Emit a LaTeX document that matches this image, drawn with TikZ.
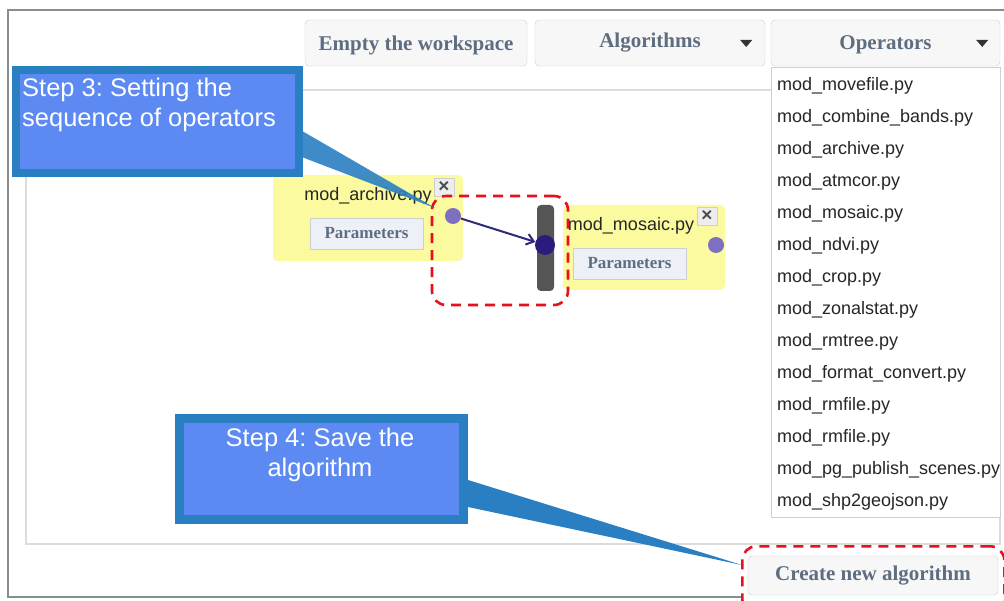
\documentclass[tikz,border=0pt]{standalone}
\usepackage{fontspec}
\setmainfont{Liberation Sans}
\newfontfamily\btnfont{Liberation Serif}
\usetikzlibrary{arrows.meta,positioning,calc}
\frenchspacing
\definecolor{frameg}{HTML}{8C8C8C}
\definecolor{panelg}{HTML}{DCDCDC}
\definecolor{btnfill}{HTML}{F7F7F7}
\definecolor{btnline}{HTML}{CFCFCF}
\definecolor{btntext}{HTML}{5E6E80}
\definecolor{opyellow}{HTML}{FBFA9E}
\definecolor{parfill}{HTML}{EEF0F8}
\definecolor{portc}{HTML}{7F6FC0}
\definecolor{inport}{HTML}{2B1B7D}
\definecolor{barg}{HTML}{555555}
\definecolor{linkc}{HTML}{2E2A7A}
\definecolor{markred}{HTML}{E8101C}
\definecolor{calldark}{HTML}{2A7FC2}
\definecolor{calllight}{HTML}{5C8AF2}

\begin{document}
\begin{tikzpicture}[x=1pt,y=-1pt,
        btn/.style={draw=btnline,fill=btnfill,rounded corners=4pt,text=btntext,
          font=\btnfont\fontsize{21}{24}\selectfont\bfseries},
        item/.style={text width=220pt,inner sep=0pt,outer sep=0pt,minimum height=32pt,align=left,
          font=\fontsize{18}{20}\selectfont,text=black!85},
        op/.style={fill=opyellow,rounded corners=5pt},
        optitle/.style={font=\fontsize{18}{20}\selectfont,text=black!85,inner sep=0pt},
        parbtn/.style={draw=btnline,fill=parfill,minimum width=113pt,minimum height=31pt,
          text=btntext,font=\btnfont\fontsize{17}{20}\selectfont\bfseries},
        closebox/.style={draw=btnline,fill=black!7,minimum width=20pt,minimum height=18pt,
          inner sep=0pt,font=\fontsize{19}{20}\selectfont\bfseries,text=black!70},
        port/.style={circle,fill=portc,minimum size=16pt,inner sep=0pt},
        redmark/.style={draw=markred,dash pattern=on 10pt off 7pt,line width=2.6pt,rounded corners=14pt},
        callout/.style={draw=calldark,fill=calllight,line width=8pt},
        calltext/.style={text=white,inner sep=0pt,font=\fontsize{25.5}{30}\selectfont},
        wedge/.style={fill=calldark},
        link/.style={-{Straight Barb[length=7pt,width=11pt]},line width=2pt,linkc}]
        \useasboundingbox[fill=white] (0,0) rectangle (1004,601);
        % page frame and workspace
        \draw[frameg,line width=1.5pt] (1004,10) -- (8,10) -- (8,597) -- (741,597);
        \draw[panelg,line width=1.2pt] (26,90) rectangle (1000,544);
        % toolbar
        \node[btn,minimum width=222,minimum height=46,text depth=0pt] (empty) at (416,43) {Empty the workspace};
        \node[btn,minimum width=230,minimum height=46] (algo) at (650,43) {Algorithms};
        \node[btn,minimum width=229,minimum height=46,text depth=0pt] (ops) at (885.5,43) {Operators};
        \fill[black!80] ($(algo.east)+(-25,-3)$) -- ++(12,0) -- ++(-6,7) -- cycle;
        \fill[black!80] ($(ops.east)+(-24,-3)$) -- ++(12,0) -- ++(-6,7) -- cycle;
        % operator list
        \node[draw=btnline,fill=white,minimum width=229,minimum height=450,anchor=north west] (oplist) at (771,67) {};
        \node[item,anchor=west] (i1) at (777,86) {mod\_movefile.py};
        \node[item,below=0pt of i1] (i2) {mod\_combine\_bands.py};
        \node[item,below=0pt of i2] (i3) {mod\_archive.py};
        \node[item,below=0pt of i3] (i4) {mod\_atmcor.py};
        \node[item,below=0pt of i4] (i5) {mod\_mosaic.py};
        \node[item,below=0pt of i5] (i6) {mod\_ndvi.py};
        \node[item,below=0pt of i6] (i7) {mod\_crop.py};
        \node[item,below=0pt of i7] (i8) {mod\_zonalstat.py};
        \node[item,below=0pt of i8] (i9) {mod\_rmtree.py};
        \node[item,below=0pt of i9] (i10) {mod\_format\_convert.py};
        \node[item,below=0pt of i10] (i11) {mod\_rmfile.py};
        \node[item,below=0pt of i11] (i12) {mod\_rmfile.py};
        \node[item,below=0pt of i12] (i13) {mod\_pg\_publish\_scenes.py};
        \node[item,below=0pt of i13] (i14) {mod\_shp2geojson.py};
        % operator boxes
        \node[op,minimum width=190,minimum height=86] (archive) at (368,218) {};
        \node[optitle] (archivet) at (368,196) {mod\_archive.py};
        \node[parbtn] (archivep) at (366.5,233.5) {Parameters};
        \node[closebox] (archivex) at (444,187) {×};
        \node[port] (archiveo) at (453,216) {};
        \node[op,minimum width=162,minimum height=85] (mosaic) at (644,247.5) {};
        \node[optitle] (mosaict) at (631,226) {mod\_mosaic.py};
        \node[parbtn] (mosaicp) at (629.5,263.5) {Parameters};
        \node[closebox] (mosaicx) at (707,216) {×};
        \node[port] (mosaico) at (716,245) {};
        \node[fill=barg,rounded corners=4pt,minimum width=17,minimum height=86] (bar) at (545.5,248) {};
        \node[circle,fill=inport,minimum size=20pt,inner sep=0pt] (mosaici) at (545,245) {};
        \draw[link] (archiveo) -- (mosaici);
        % highlights
        \node[redmark,minimum width=136,minimum height=109] (sel) at (500,250.5) {};
        \node[btn,minimum width=250,minimum height=39] (create) at (873,575.5) {Create new algorithm};
        \node[redmark,minimum width=262,minimum height=67,anchor=north west] (selc) at (741,545) {};
        % callouts
        \coordinate (tip3) at (435,208);
        \coordinate (tip4) at (742,565);
        \node[callout,minimum width=283,minimum height=103] (c3) at (157.5,121.5) {};
        \fill[wedge,fill opacity=0.9] ($(c3.east)+(0,10)$) -- (tip3) -- ($(c3.east)+(0,36)$) -- cycle;
        \node[calltext,anchor=north west,align=left] (c3t) at (22,78) {Step 3: Setting the\\sequence of operators};
        \node[callout,line width=9pt,minimum width=284,minimum height=101] (c4) at (321.5,469) {};
        \fill[wedge] ($(c4.east)+(0,11)$) -- (tip4) -- ($(c4.east)+(0,38)$) -- cycle;
        \node[calltext,anchor=north,align=center] (c4t) at (320,428) {Step 4: Save the\\algorithm};
      \end{tikzpicture}
\end{document}
